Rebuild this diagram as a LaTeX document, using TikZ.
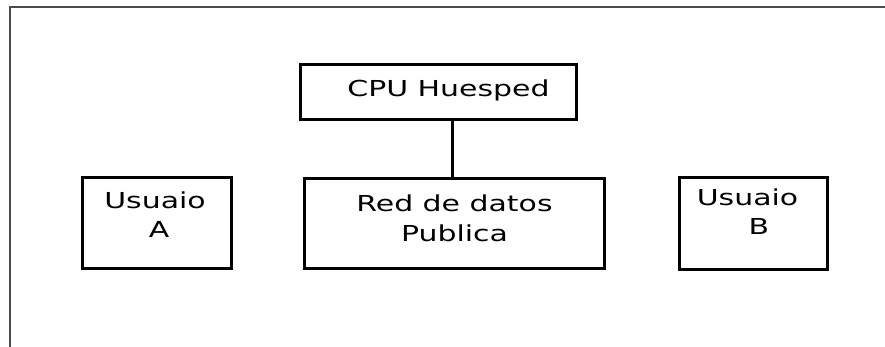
\documentclass[tikz,border=0pt]{standalone}
\usepackage{fontspec}
\newfontfamily\diagfont[FakeStretch=1.36]{DejaVu Sans}
\tikzset{
  box/.style={draw=black, line width=3pt, rectangle, inner sep=0pt,
    align=center, font=\diagfont\fontsize{22}{29}\selectfont},
  frameline/.style={draw=black!70, line width=1.6pt},
  link/.style={draw=black, line width=3pt}
}
\newcommand{\lift}[2]{\raisebox{#1}[\height][\depth]{#2}}
\begin{document}
\begin{tikzpicture}[x=1pt, y=-1pt]
  \useasboundingbox (0,0) rectangle (885,347);
  % open frame: top edge and left edge
  \coordinate (fl) at (10,347);
  \coordinate (fc) at (10,7);
  \coordinate (fr) at (885,7);
  \draw[frameline] (fl) -- (fc) -- (fr);

  \node[box, minimum width=276pt, minimum height=55pt] (cpu) at (438.5,92)
    {\lift{2pt}{\hspace*{20pt}CPU Huesped}};
  \node[box, minimum width=300pt, minimum height=90pt,
        font=\diagfont\fontsize{22}{30}\selectfont] (red) at (454.5,223.5)
    {\lift{3pt}{\begin{tabular}{@{}c@{}}Red de datos\\Publica\end{tabular}}};
  \node[box, minimum width=149pt, minimum height=91pt] (usa) at (157,223)
    {\lift{6pt}{\begin{tabular}{@{}c@{}}Usuaio\hspace*{4pt}\\\hspace*{4pt}A\end{tabular}}};
  \node[box, minimum width=148pt, minimum height=92pt] (usb) at (753.5,223.5)
    {\lift{9pt}{\begin{tabular}{@{}c@{}}Usuaio\hspace*{12pt}\\\hspace*{11pt}B\end{tabular}}};

  \coordinate (tap) at (452,0);
  \draw[link] (cpu.south -| tap) -- (red.north -| tap);
\end{tikzpicture}
\end{document}
